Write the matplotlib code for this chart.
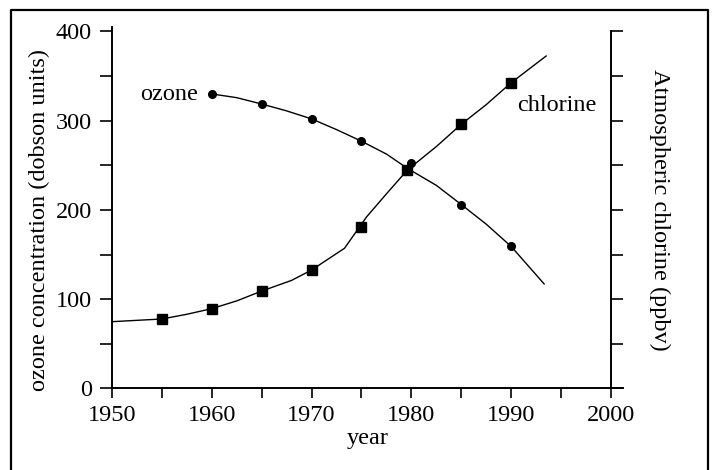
import matplotlib
matplotlib.use('Agg')
import matplotlib.pyplot as plt
from matplotlib.lines import Line2D
from matplotlib.ticker import MultipleLocator, NullFormatter

plt.rcParams['font.family'] = ['Liberation Serif', 'DejaVu Serif']
FS = 17.5

# measured points
ozone_years = [1960, 1965, 1970, 1975, 1980, 1985, 1990]
ozone_vals = [330, 319, 302, 277, 253, 206, 159]
chl_years = [1955, 1960, 1965, 1970, 1975, 1979.6, 1985, 1990]
chl_vals = [77.7, 89.3, 109, 132.6, 181, 244.7, 296, 342.6]

# drawn curves
ozone_curve_x = [1960, 1962.5, 1965, 1967.5, 1970, 1972.5, 1975, 1977.5, 1979.6,
                 1982.5, 1985, 1987.5, 1990, 1993.3]
ozone_curve_y = [330, 325.8, 318.7, 311, 302, 290, 277, 262.6, 246.6,
                 227.5, 206, 184, 159, 117]
chl_curve_x = [1950, 1955, 1957.5, 1960, 1962.5, 1965, 1968, 1970, 1973.3, 1975.5,
               1977.5, 1979.6, 1982.5, 1985, 1987.5, 1990, 1993.5]
chl_curve_y = [74.7, 77.7, 83, 89.3, 98, 109, 121, 132.6, 157, 192,
               218, 244.7, 271, 296, 318, 342.6, 372.5]

fig = plt.figure(figsize=(7.15, 4.7), dpi=100)
ax = fig.add_axes([0.1566, 0.1738, 0.7147, 0.7687])

ax.plot(ozone_curve_x, ozone_curve_y, color='black', lw=1.0)
ax.plot(chl_curve_x, chl_curve_y, color='black', lw=1.0)
ax.plot(ozone_years, ozone_vals, 'o', color='black', ms=5.5, zorder=3)
ax.plot(chl_years, chl_vals, 's', color='black', ms=7.5, zorder=3)

ax.set_xlim(1950, 2001.2)
ax.set_ylim(0, 405)
ax.spines['top'].set_visible(False)
ax.spines['right'].set_visible(False)
for s in ['left', 'bottom']:
    ax.spines[s].set_linewidth(1.4)

ax.xaxis.set_major_locator(MultipleLocator(10))
ax.xaxis.set_minor_locator(MultipleLocator(5))
ax.yaxis.set_major_locator(MultipleLocator(100))
ax.yaxis.set_minor_locator(MultipleLocator(50))
ax.tick_params(axis='x', which='both', direction='out', length=7.2, width=1.2,
               labelsize=FS, pad=5)
ax.tick_params(axis='y', which='both', direction='out', length=8.6, width=1.2,
               labelsize=FS, pad=6)
ax.set_xticks([1950, 1960, 1970, 1980, 1990, 2000])

ax.set_xlabel('year', fontsize=FS, labelpad=1)
ax.set_ylabel('ozone concentration (dobson units)', fontsize=FS)
ax.yaxis.set_label_coords(-0.121, 0.467)

ax2 = ax.twinx()
ax2.set_ylim(0, 405)
ax2.spines['top'].set_visible(False)
ax2.spines['left'].set_visible(False)
ax2.spines['bottom'].set_visible(False)
ax2.spines['right'].set_position(('data', 2000))
ax2.spines['right'].set_bounds(0, 400)
ax2.spines['right'].set_linewidth(1.4)
ax2.yaxis.set_major_locator(MultipleLocator(50))
ax2.yaxis.set_major_formatter(NullFormatter())
ax2.tick_params(axis='y', direction='out', length=8.6, width=1.2)
ax2.text(1.072, 0.493, 'Atmospheric chlorine (ppbv)', transform=ax.transAxes,
         rotation=270, ha='center', va='center', fontsize=FS)

ax.text(1958.6, 329, 'ozone', ha='right', va='center', fontsize=FS)
ax.text(1990.6, 316.5, 'chlorine', ha='left', va='center', fontsize=FS)

# frame around the figure
fx0, fx1, fy = 11 / 715, 708 / 715, 1 - 10 / 470
fig.add_artist(Line2D([fx0, fx0, fx1, fx1], [0, fy, fy, 0],
                      transform=fig.transFigure, color='black', lw=1.6))

fig.savefig('out.png', dpi=100)
